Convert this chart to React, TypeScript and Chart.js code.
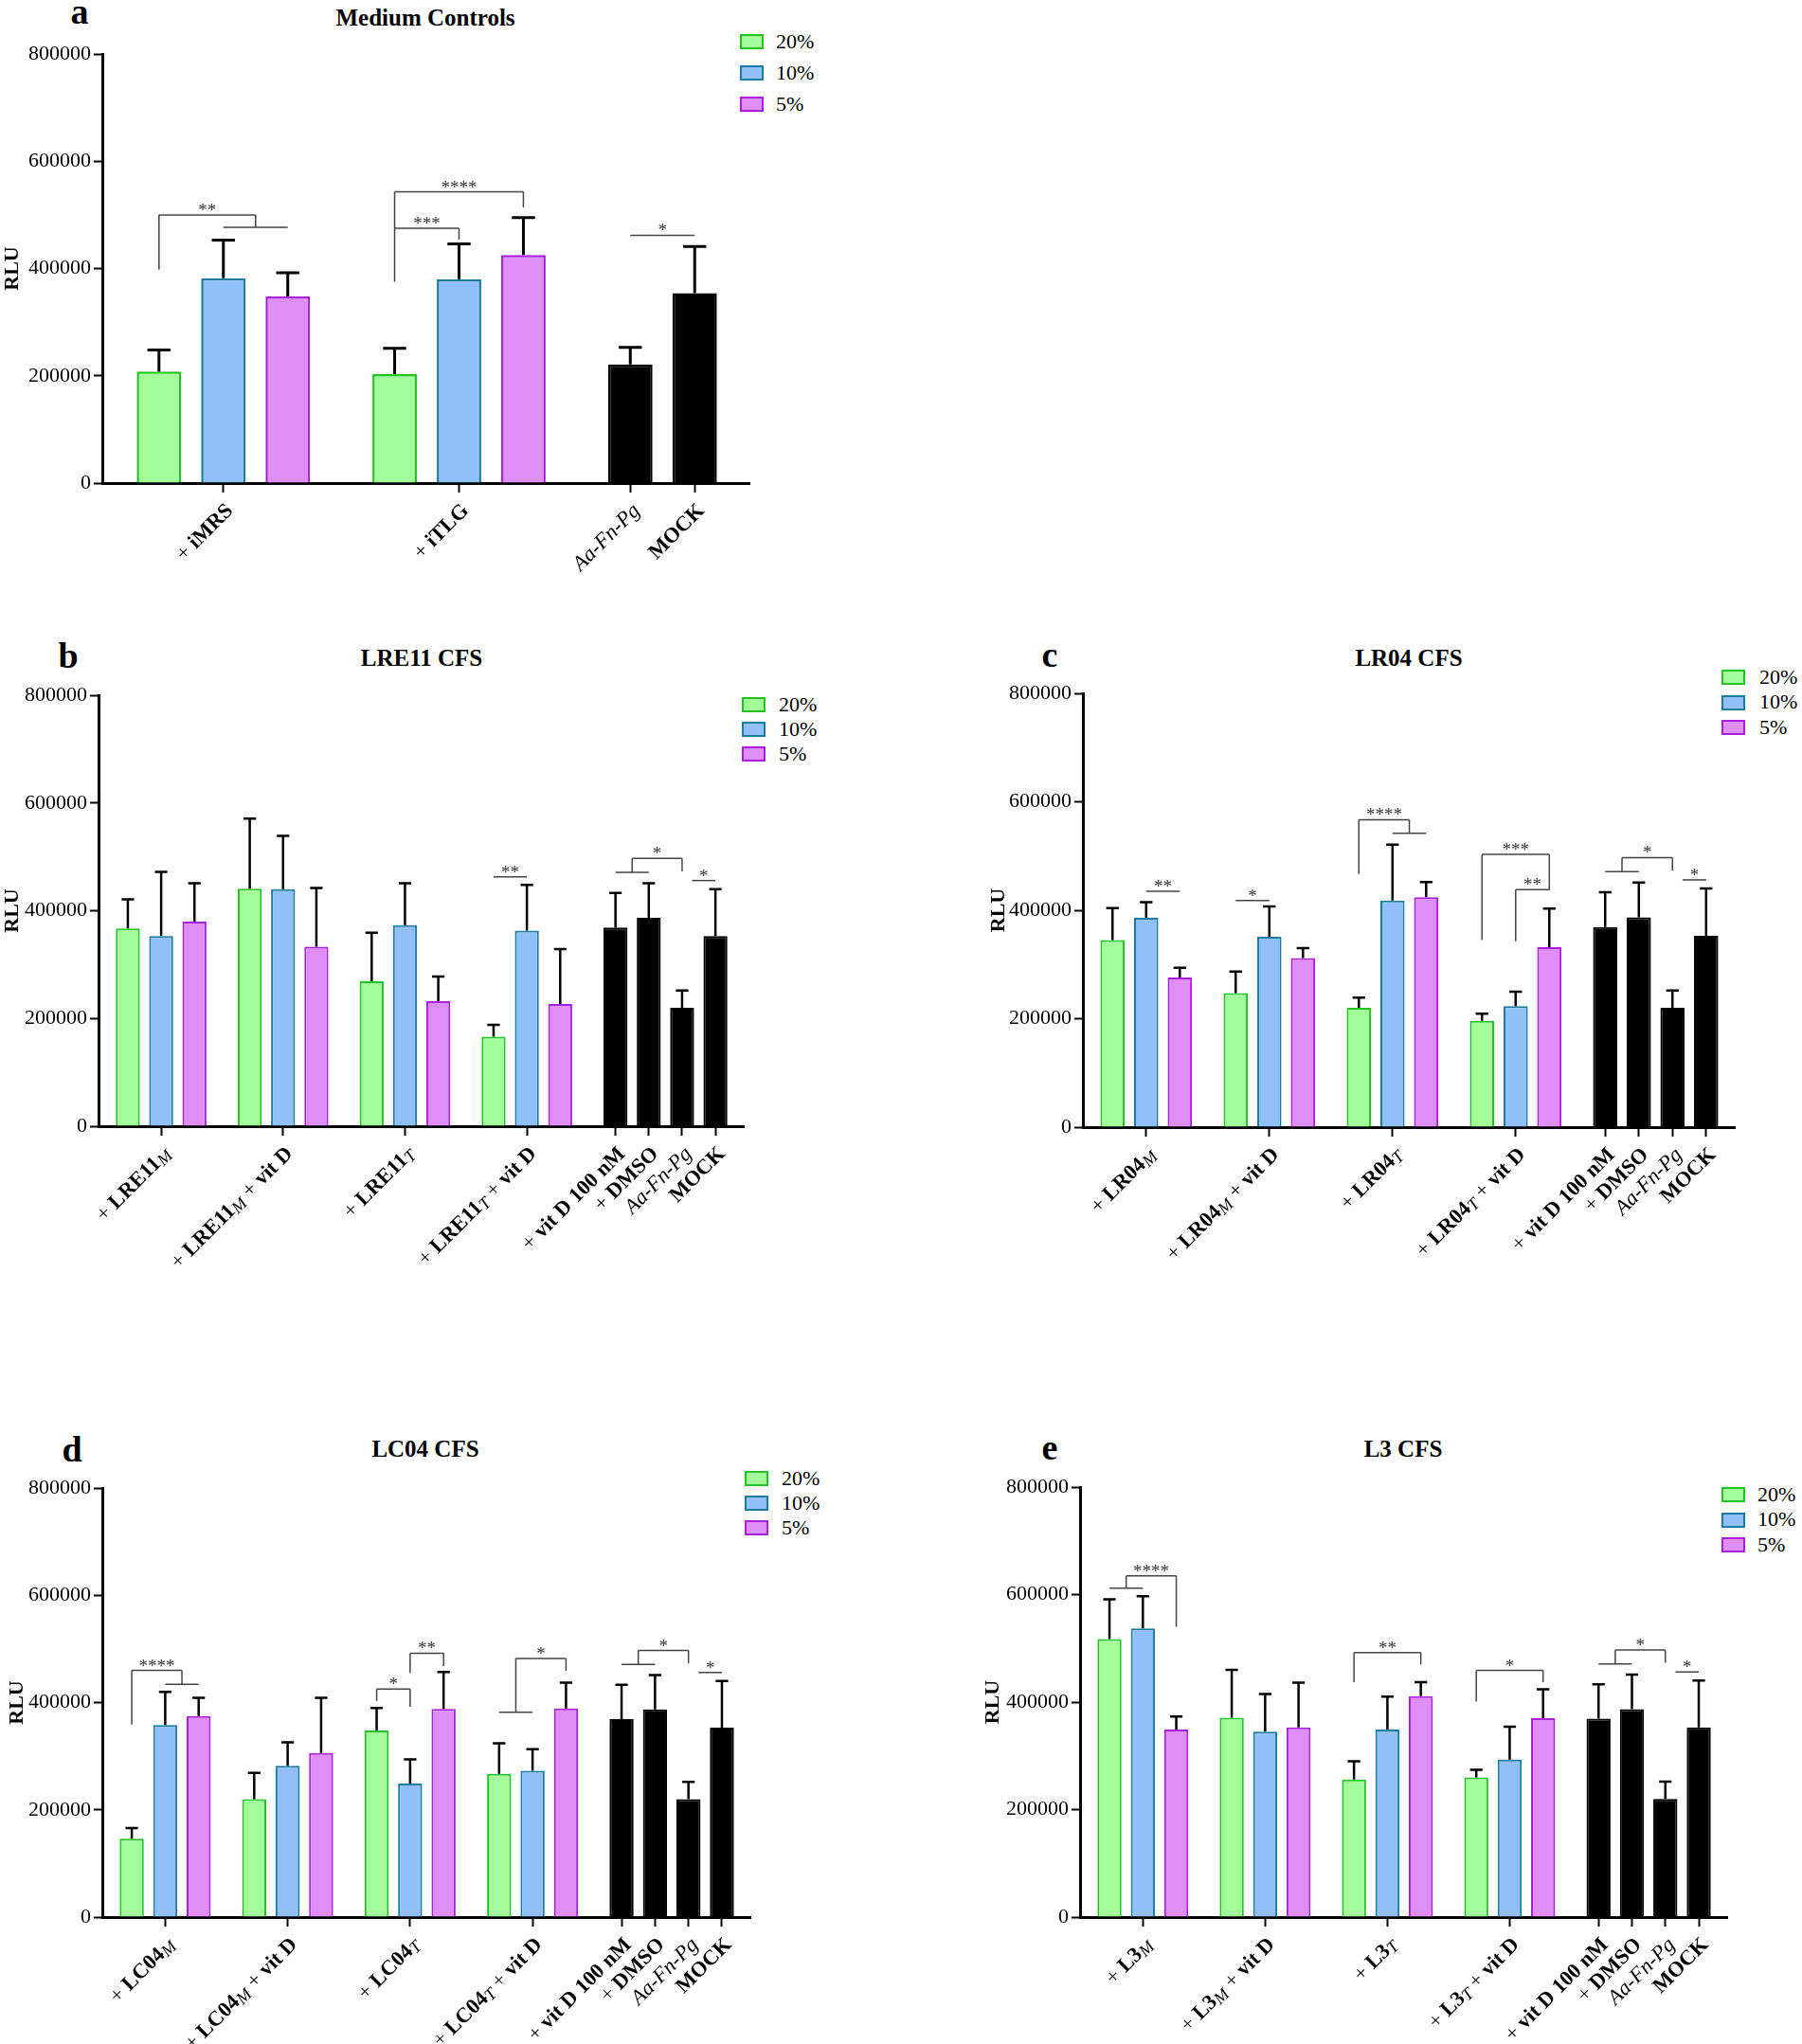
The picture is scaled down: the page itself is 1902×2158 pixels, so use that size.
import React, { useEffect, useRef } from 'react';
import { Chart, registerables } from 'chart.js';

Chart.register(...registerables);

const SERIF = '"Liberation Serif", "Times New Roman", Times, serif';

// legend series: name, fill, outline
const seriesNames = ['20%', '10%', '5%'];
const seriesFill = ['#a3fd9b', '#91bff7', '#df8ef7'];
const seriesLine = ['#22c322', '#1b7c9e', '#a81fdc'];

const rluTicks = [0, 200000, 400000, 600000, 800000];

// label markup: *bold*, _subscript_, /italic/
const controlLabels = ['+ *vit D 100 nM*', '+ *DMSO*', '/Aa-Fn-Pg/', '*MOCK*'];
const controlMeans = [369000, 387000, 220000, 353000];
const controlSd = [64000, 64000, 32000, 87000];

type End = { bars: number[]; drop: number; dx?: number };
type Bracket = { l: End; r: End; y: number; label: string };

// comparisons among the four control bars (b–e)
const controlBrackets: Bracket[] = [
  { l: { bars: [12, 13], drop: 471000 }, r: { bars: [14], drop: 473000 }, y: 497000, label: '*' },
  { l: { bars: [14], drop: 456000, dx: 0.3 }, r: { bars: [15], drop: 456000 }, y: 456000, label: '*' },
];

// a – Medium Controls
const aGroups = ['+ *iMRS*', '+ *iTLG*'];
const aControls = ['/Aa-Fn-Pg/', '*MOCK*'];
const a20 = [208000, 203000];
const a20Sd = [40000, 48000];
const a10 = [382000, 380000];
const a10Sd = [71000, 66000];
const a5 = [348000, 425000];
const a5Sd = [44000, 70000];
const aCtrl = [221000, 354000];
const aCtrlSd = [32000, 87000];
const aBrackets: Bracket[] = [
  { l: { bars: [0], drop: 398000 }, r: { bars: [1, 2], drop: 477000 }, y: 500000, label: '**' },
  { l: { bars: [3], drop: 375000 }, r: { bars: [4], drop: 454000 }, y: 475000, label: '***' },
  { l: { bars: [3], drop: 475000 }, r: { bars: [5], drop: 514000 }, y: 543000, label: '****' },
  { l: { bars: [6], drop: 462000 }, r: { bars: [7], drop: 462000 }, y: 462000, label: '*' },
];

// b – LRE11 CFS
const bGroups = ['+ *LRE11*_M_', '+ *LRE11*_M_ + *vit D*', '+ *LRE11*_T_', '+ *LRE11*_T_ + *vit D*'];
const b20 = [367000, 441000, 269000, 166000];
const b20Sd = [54000, 130000, 90000, 22000];
const b10 = [353000, 440000, 373000, 363000];
const b10Sd = [119000, 99000, 78000, 85000];
const b5 = [380000, 333000, 232000, 227000];
const b5Sd = [71000, 109000, 46000, 102000];
const bBrackets: Bracket[] = [
  { l: { bars: [9], drop: 463000 }, r: { bars: [10], drop: 463000 }, y: 463000, label: '**' },
];

// c – LR04 CFS
const cGroups = ['+ *LR04*_M_', '+ *LR04*_M_ + *vit D*', '+ *LR04*_T_', '+ *LR04*_T_ + *vit D*'];
const c20 = [345000, 247000, 220000, 196000];
const c20Sd = [59000, 40000, 19000, 13000];
const c10 = [386000, 351000, 418000, 223000];
const c10Sd = [29000, 56000, 103000, 27000];
const c5 = [276000, 312000, 424000, 332000];
const c5Sd = [18000, 18000, 28000, 71000];
const cBrackets: Bracket[] = [
  { l: { bars: [1], drop: 435000 }, r: { bars: [2], drop: 435000 }, y: 435000, label: '**' },
  { l: { bars: [3], drop: 418000 }, r: { bars: [4], drop: 418000 }, y: 418000, label: '*' },
  { l: { bars: [6], drop: 467000 }, r: { bars: [7, 8], drop: 542000 }, y: 567000, label: '****' },
  { l: { bars: [9], drop: 345000 }, r: { bars: [11], drop: 437000 }, y: 503000, label: '***' },
  { l: { bars: [10], drop: 343000 }, r: { bars: [11], drop: 438000 }, y: 438000, label: '**' },
];

// d – LC04 CFS
const dGroups = ['+ *LC04*_M_', '+ *LC04*_M_ + *vit D*', '+ *LC04*_T_', '+ *LC04*_T_ + *vit D*'];
const d20 = [146000, 220000, 348000, 267000];
const d20Sd = [20000, 49000, 42000, 57000];
const d10 = [358000, 282000, 249000, 273000];
const d10Sd = [62000, 44000, 45000, 40000];
const d5 = [375000, 306000, 388000, 389000];
const d5Sd = [34000, 103000, 69000, 48000];
const dBrackets: Bracket[] = [
  { l: { bars: [0], drop: 359000 }, r: { bars: [1, 2], drop: 434000 }, y: 460000, label: '****' },
  { l: { bars: [6], drop: 403000 }, r: { bars: [7], drop: 392000 }, y: 425000, label: '*' },
  { l: { bars: [7], drop: 455000 }, r: { bars: [8], drop: 468000 }, y: 492000, label: '**' },
  { l: { bars: [9, 10], drop: 382000 }, r: { bars: [11], drop: 459000 }, y: 482000, label: '*' },
];

// e – L3 CFS
const eGroups = ['+ *L3*_M_', '+ *L3*_M_ + *vit D*', '+ *L3*_T_', '+ *L3*_T_ + *vit D*'];
const e20 = [517000, 371000, 256000, 260000];
const e20Sd = [74000, 89000, 34000, 14000];
const e10 = [537000, 345000, 349000, 293000];
const e10Sd = [60000, 70000, 61000, 61000];
const e5 = [349000, 353000, 411000, 370000];
const e5Sd = [24000, 83000, 26000, 54000];
const eBrackets: Bracket[] = [
  { l: { bars: [0, 1], drop: 612000 }, r: { bars: [2], drop: 540000 }, y: 635000, label: '****' },
  { l: { bars: [6], drop: 437000 }, r: { bars: [8], drop: 470000 }, y: 492000, label: '**' },
  { l: { bars: [9], drop: 401000 }, r: { bars: [11], drop: 437000 }, y: 459000, label: '*' },
];

const GROUP_PITCH = 3.66; // distance between groups, in bar slots

interface Layout {
  canvas: [number, number, number, number]; // left, top, width, height
  plot: [number, number, number, number]; // left, right, top, bottom
  letter: [number, number]; // x centre, baseline
  title: [number, number];
  legend: [number, number, number, number]; // box x, text x, first row y, row step
  barPct: number;
  barBorder: number;
  errWidth: number;
}

interface Panel {
  letter: string;
  title: string;
  groups: string[];
  controls: string[];
  means: number[][];
  sds: number[][];
  ctrl: number[];
  ctrlSd: number[];
  brackets: Bracket[];
  layout: Layout;
}

const panels: Panel[] = [
  {
    letter: 'a', title: 'Medium Controls', groups: aGroups, controls: aControls,
    means: [a20, a10, a5], sds: [a20Sd, a10Sd, a5Sd], ctrl: aCtrl, ctrlSd: aCtrlSd, brackets: aBrackets,
    layout: { canvas: [0, 30, 801, 610], plot: [108, 791, 57, 510], letter: [84, 25], title: [449, 27],
      legend: [781, 819, 44, 33], barPct: 0.69, barBorder: 2.5, errWidth: 3 },
  },
  {
    letter: 'b', title: 'LRE11 CFS', groups: bGroups, controls: controlLabels,
    means: [b20, b10, b5], sds: [b20Sd, b10Sd, b5Sd], ctrl: controlMeans, ctrlSd: controlSd,
    brackets: [...bBrackets, ...controlBrackets],
    layout: { canvas: [0, 700, 795, 690], plot: [104, 785, 734, 1189], letter: [72, 705], title: [445, 703],
      legend: [783, 822, 744, 26], barPct: 0.72, barBorder: 2, errWidth: 2.5 },
  },
  {
    letter: 'c', title: 'LR04 CFS', groups: cGroups, controls: controlLabels,
    means: [c20, c10, c5], sds: [c20Sd, c10Sd, c5Sd], ctrl: controlMeans, ctrlSd: controlSd,
    brackets: [...cBrackets, ...controlBrackets],
    layout: { canvas: [1041, 700, 800, 690], plot: [1143, 1831, 732, 1190], letter: [1108, 704], title: [1487, 703],
      legend: [1817, 1857, 715, 26.5], barPct: 0.72, barBorder: 2, errWidth: 2.5 },
  },
  {
    letter: 'd', title: 'LC04 CFS', groups: dGroups, controls: controlLabels,
    means: [d20, d10, d5], sds: [d20Sd, d10Sd, d5Sd], ctrl: controlMeans, ctrlSd: controlSd,
    brackets: [...dBrackets, ...controlBrackets],
    layout: { canvas: [5, 1545, 797, 669], plot: [108, 792, 1571, 2024], letter: [76, 1543], title: [449, 1538],
      legend: [786, 825, 1561, 26], barPct: 0.72, barBorder: 2, errWidth: 2.5 },
  },
  {
    letter: 'e', title: 'L3 CFS', groups: eGroups, controls: controlLabels,
    means: [e20, e10, e5], sds: [e20Sd, e10Sd, e5Sd], ctrl: controlMeans, ctrlSd: controlSd,
    brackets: [...eBrackets, ...controlBrackets],
    layout: { canvas: [1035, 1545, 798, 669], plot: [1140, 1823, 1570, 2024], letter: [1108, 1541], title: [1481, 1538],
      legend: [1817, 1855, 1578, 26.5], barPct: 0.72, barBorder: 2, errWidth: 2.5 },
  },
];

type Seg = { t: string; f: string; dy: number };

function parseLabel(s: string, size: number): Seg[] {
  return s
    .split(/(\*[^*]+\*|_[^_]+_|\/[^/]+\/)/)
    .filter(Boolean)
    .map((p) => {
      if (p[0] === '*') return { t: p.slice(1, -1), f: `bold ${size}px ${SERIF}`, dy: 0 };
      if (p[0] === '_') return { t: p.slice(1, -1), f: `italic ${Math.round(size * 0.8)}px ${SERIF}`, dy: size * 0.18 };
      if (p[0] === '/') return { t: p.slice(1, -1), f: `italic ${size}px ${SERIF}`, dy: 0 };
      return { t: p, f: `${size}px ${SERIF}`, dy: 0 };
    });
}

function buildChart(canvas: HTMLCanvasElement, p: Panel) {
  const L = p.layout;
  const n = p.groups.length;
  const slot = (i: number) => (i < n * 3 ? Math.floor(i / 3) * GROUP_PITCH + (i % 3) : n * GROUP_PITCH + (i - n * 3));
  const last = slot(n * 3 + p.controls.length - 1);
  const tickSlots = [...p.groups.map((_, g) => slot(g * 3 + 1)), ...p.controls.map((_, j) => slot(n * 3 + j))];
  const labels = [...p.groups, ...p.controls];

  const [cl, ct, cw, chh] = L.canvas;
  const [pl, pr, pt, pb] = L.plot;

  const sds = [...p.sds, p.ctrlSd];
  const datasets: any[] = [
    ...seriesNames.map((name, k) => ({
      label: name,
      data: p.means[k].map((v, g) => ({ x: slot(g * 3 + k), y: v })),
      backgroundColor: seriesFill[k],
      borderColor: seriesLine[k],
    })),
    {
      label: 'controls',
      data: p.ctrl.map((v, j) => ({ x: slot(n * 3 + j), y: v })),
      backgroundColor: '#000',
      borderColor: '#000',
    },
  ];

  const annotations = {
    id: 'annotations',
    afterDatasetsDraw(chart: any) {
      const { ctx } = chart;
      const y = chart.scales.y;
      ctx.save();
      ctx.strokeStyle = '#000';
      ctx.lineWidth = L.errWidth;
      datasets.forEach((ds, d) => {
        chart.getDatasetMeta(d).data.forEach((el: any, i: number) => {
          const top = y.getPixelForValue(ds.data[i].y + sds[d][i]);
          const cap = el.width * 0.26;
          ctx.beginPath();
          ctx.moveTo(el.x, el.y);
          ctx.lineTo(el.x, top);
          ctx.moveTo(el.x - cap, top);
          ctx.lineTo(el.x + cap, top);
          ctx.stroke();
        });
      });
      ctx.restore();
    },
    afterDraw(chart: any) {
      const { ctx, chartArea } = chart;
      const x = chart.scales.x;
      const y = chart.scales.y;

      // significance brackets
      ctx.save();
      ctx.strokeStyle = '#444';
      ctx.fillStyle = '#333';
      ctx.lineWidth = 1.5;
      ctx.font = `19px ${SERIF}`;
      ctx.textAlign = 'center';
      ctx.textBaseline = 'alphabetic';
      const endX = (e: End, yTop: number) => {
        const xs = e.bars.map((b) => x.getPixelForValue(slot(b) + (e.dx || 0)));
        const yd = y.getPixelForValue(e.drop);
        ctx.beginPath();
        if (xs.length > 1) {
          const mid = (xs[0] + xs[1]) / 2;
          ctx.moveTo(xs[0], yd);
          ctx.lineTo(xs[1], yd);
          ctx.moveTo(mid, yd);
          ctx.lineTo(mid, yTop);
          ctx.stroke();
          return mid;
        }
        if (Math.abs(yd - yTop) > 0.5) {
          ctx.moveTo(xs[0], yd);
          ctx.lineTo(xs[0], yTop);
          ctx.stroke();
        }
        return xs[0];
      };
      p.brackets.forEach((b) => {
        const yTop = y.getPixelForValue(b.y);
        const x1 = endX(b.l, yTop);
        const x2 = endX(b.r, yTop);
        ctx.beginPath();
        ctx.moveTo(x1, yTop);
        ctx.lineTo(x2, yTop);
        ctx.stroke();
        ctx.fillText(b.label, (x1 + x2) / 2, yTop + 1);
      });
      ctx.restore();

      // rotated category labels with mixed styles
      ctx.save();
      ctx.fillStyle = '#000';
      ctx.textAlign = 'left';
      ctx.textBaseline = 'middle';
      labels.forEach((lab, i) => {
        const segs = parseLabel(lab, 22.5);
        const widths = segs.map((s) => {
          ctx.font = s.f;
          return ctx.measureText(s.t).width;
        });
        const total = widths.reduce((a, b) => a + b, 0);
        const px = x.getPixelForValue(tickSlots[i]);
        ctx.save();
        ctx.translate(px + 7, chartArea.bottom + 26);
        ctx.rotate(-Math.PI / 4);
        let cx = -total;
        segs.forEach((s, k) => {
          ctx.font = s.f;
          ctx.fillText(s.t, cx, s.dy);
          cx += widths[k];
        });
        ctx.restore();
      });
      ctx.restore();
    },
  };

  return new Chart(canvas, {
    type: 'bar',
    data: { datasets },
    options: {
      animation: false,
      responsive: false,
      maintainAspectRatio: false,
      layout: { padding: { left: 0, top: pt - ct, right: cl + cw - pr, bottom: 0 } },
      datasets: {
        bar: {
          grouped: false,
          categoryPercentage: 1,
          barPercentage: L.barPct,
          borderWidth: L.barBorder,
          borderSkipped: 'start',
        },
      } as any,
      plugins: {
        legend: { display: false },
        title: { display: false },
        tooltip: { enabled: false },
      },
      scales: {
        x: {
          type: 'linear',
          offset: false,
          min: -0.88,
          max: last + 0.85,
          afterBuildTicks: (s: any) => {
            s.ticks = tickSlots.map((v) => ({ value: v }));
          },
          afterFit: (s: any) => {
            s.height = ct + chh - pb;
          },
          ticks: { display: false },
          grid: {
            offset: false,
            drawOnChartArea: false,
            drawTicks: true,
            tickLength: 10,
            tickWidth: 2,
            tickColor: '#000',
          },
          border: { display: true, color: '#000', width: 3 },
        },
        y: {
          min: 0,
          max: 800000,
          afterBuildTicks: (s: any) => {
            s.ticks = rluTicks.map((v) => ({ value: v }));
          },
          afterFit: (s: any) => {
            s.width = pl - cl;
          },
          ticks: {
            color: '#000',
            padding: 3,
            font: { family: SERIF, size: 22 },
            callback: (v: any) => String(v),
          },
          title: {
            display: true,
            text: 'RLU',
            color: '#000',
            padding: 0,
            font: { family: SERIF, size: 22, weight: 'bold' },
          },
          grid: { drawOnChartArea: false, drawTicks: true, tickLength: 9, tickWidth: 2, tickColor: '#000' },
          border: { display: true, color: '#000', width: 3 },
        },
      },
    } as any,
    plugins: [annotations],
  });
}

const PanelChart: React.FC<{ p: Panel }> = ({ p }) => {
  const ref = useRef<HTMLCanvasElement>(null);

  useEffect(() => {
    if (!ref.current) return;
    const chart = buildChart(ref.current, p);
    return () => {
      chart.destroy();
    };
  }, [p]);

  const [left, top, width, height] = p.layout.canvas;
  return (
    <canvas
      ref={ref}
      width={width}
      height={height}
      style={{ position: 'absolute', left, top, width, height }}
    />
  );
};

// serif text placed by its baseline
const Txt: React.FC<{ x: number; base: number; size: number; bold?: boolean; center?: boolean; children: React.ReactNode }> = ({
  x, base, size, bold, center, children,
}) => (
  <div
    style={{
      position: 'absolute',
      left: x,
      top: base - 0.838 * size,
      fontFamily: SERIF,
      fontSize: size,
      lineHeight: `${size}px`,
      fontWeight: bold ? 'bold' : 'normal',
      whiteSpace: 'nowrap',
      transform: center ? 'translateX(-50%)' : undefined,
      color: '#000',
    }}
  >
    {children}
  </div>
);

const PanelFrame: React.FC<{ p: Panel }> = ({ p }) => {
  const L = p.layout;
  const [bx, tx, y0, dy] = L.legend;
  return (
    <>
      <Txt x={L.letter[0]} base={L.letter[1]} size={38} bold center>
        {p.letter}
      </Txt>
      <Txt x={L.title[0]} base={L.title[1]} size={25} bold center>
        {p.title}
      </Txt>
      {seriesNames.map((name, k) => (
        <React.Fragment key={name}>
          <div
            style={{
              position: 'absolute',
              left: bx,
              top: y0 + k * dy - 8,
              width: 25,
              height: 16,
              boxSizing: 'border-box',
              background: seriesFill[k],
              border: `2px solid ${seriesLine[k]}`,
            }}
          />
          <Txt x={tx} base={y0 + k * dy + 7} size={22}>
            {name}
          </Txt>
        </React.Fragment>
      ))}
      <PanelChart p={p} />
    </>
  );
};

export default function App() {
  return (
    <div
      style={{
        position: 'absolute',
        left: 0,
        top: 0,
        width: 1902,
        height: 2158,
        overflow: 'hidden',
        background: '#fff',
      }}
    >
      {panels.map((p) => (
        <PanelFrame key={p.letter} p={p} />
      ))}
    </div>
  );
}
